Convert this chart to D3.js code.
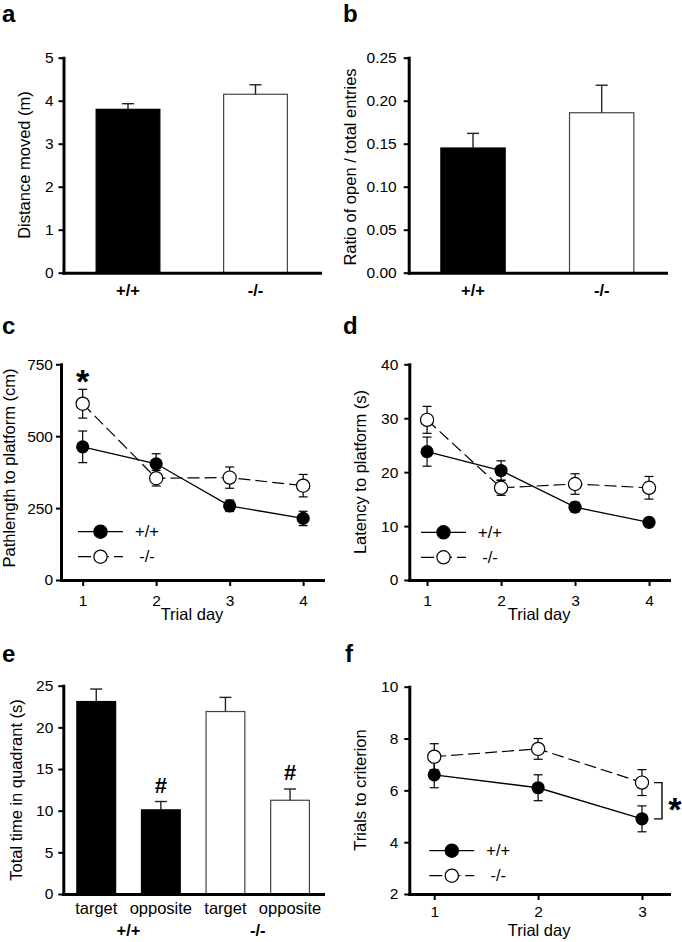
<!DOCTYPE html>
<html>
<head>
<meta charset="utf-8">
<script src="https://cdn.jsdelivr.net/npm/d3@7"></script>
<style>
  html, body { margin: 0; padding: 0; background: #fff; }
  svg { display: block; }
</style>
</head>
<body>
<svg id="chart" width="682" height="942"></svg>
<script>
// ---------------- data ----------------
const genotypes = ["+/+", "-/-"];
const distanceMean = [3.80, 4.15];
const distanceErr = [0.13, 0.22];
const ratioMean = [0.145, 0.186];
const ratioErr = [0.017, 0.032];

const mazeDays = [1, 2, 3, 4];
const pathWT = [463, 404, 258, 214];
const pathWTErr = [55, 35, 20, 25];
const pathKO = [613, 354, 356, 328];
const pathKOErr = [50, 27, 37, 39];

const latencyWT = [23.8, 20.3, 13.5, 10.7];
const latencyWTErr = [2.7, 1.8, 0.9, 0.8];
const latencyKO = [29.7, 17.1, 17.8, 17.1];
const latencyKOErr = [2.5, 1.4, 1.9, 2.1];

const quadrantLabels = ["target", "opposite", "target", "opposite"];
const quadrantGroup = ["+/+", "+/+", "-/-", "-/-"];
const quadrantMean = [23.1, 10.1, 21.9, 11.25];
const quadrantErr = [1.5, 1.0, 1.7, 1.35];
const quadrantSig = ["", "#", "", "#"];

const criterionDays = [1, 2, 3];
const criterionWT = [6.6, 6.1, 4.9];
const criterionWTErr = [0.5, 0.5, 0.5];
const criterionKO = [7.3, 7.6, 6.3];
const criterionKOErr = [0.5, 0.4, 0.5];

const ticksA = [0, 1, 2, 3, 4, 5];
const ticksB = [0, 0.05, 0.10, 0.15, 0.20, 0.25];
const ticksC = [0, 250, 500, 750];
const ticksD = [0, 10, 20, 30, 40];
const ticksE = [0, 5, 10, 15, 20, 25];
const ticksF = [2, 4, 6, 8, 10];

// ---------------- drawing ----------------
const FONT = "'Liberation Sans', Arial, Helvetica, sans-serif";
const svg = d3.select("#chart").attr("font-family", FONT);
const genoFill = { "+/+": "#000", "-/-": "#fff" };

function styleAxis(g, fs, bold) {
  g.attr("font-family", FONT);
  g.select(".domain").attr("stroke", "#000").attr("stroke-width", 3).attr("stroke-linecap", "square");
  g.selectAll(".tick line").attr("stroke", "#000").attr("stroke-width", 2);
  g.selectAll(".tick text").attr("font-size", fs).attr("fill", "#000")
    .attr("font-weight", bold ? "bold" : "normal");
}

function yAxis(y, x0, ticks, fmt, pad) {
  const g = svg.append("g").attr("transform", `translate(${x0},0)`)
    .call(d3.axisLeft(y).tickValues(ticks).tickFormat(fmt).tickSize(5).tickSizeOuter(0).tickPadding(pad));
  styleAxis(g, 15.5, false);
}

function yTitle(text, x, y) {
  svg.append("text").attr("transform", `translate(${x},${y}) rotate(-90)`)
    .attr("text-anchor", "middle").attr("font-size", 16.5).attr("fill", "#000").text(text);
}

function panelLabel(t, x, y) {
  svg.append("text").attr("x", x).attr("y", y).attr("font-size", 24)
    .attr("font-weight", "bold").attr("fill", "#000").text(t);
}

function barPanel(cfg) {
  const n = cfg.means.length;
  const x = d3.scaleBand().domain(d3.range(n)).range(cfg.xr).paddingInner(cfg.pi).paddingOuter(cfg.po);
  const y = d3.scaleLinear().domain(cfg.yd).range(cfg.yr);
  const bw = x.bandwidth();
  const g = svg.append("g");
  g.selectAll("rect").data(cfg.means).join("rect")
    .attr("x", (d, i) => x(i)).attr("y", d => y(d))
    .attr("width", bw).attr("height", d => y(cfg.yd[0]) - y(d))
    .attr("fill", (d, i) => genoFill[cfg.groups[i]])
    .attr("stroke", (d, i) => cfg.groups[i] === "+/+" ? "#000" : "#444")
    .attr("stroke-width", 1.2);
  const e = g.append("g").attr("stroke", "#222").attr("stroke-width", 1.4);
  cfg.means.forEach((m, i) => {
    const cx = x(i) + bw / 2;
    e.append("line").attr("x1", cx).attr("x2", cx).attr("y1", y(m)).attr("y2", y(m + cfg.errs[i]));
    e.append("line").attr("x1", cx - 6).attr("x2", cx + 6).attr("y1", y(m + cfg.errs[i])).attr("y2", y(m + cfg.errs[i]));
  });
  yAxis(y, cfg.xr[0], cfg.ticks, cfg.fmt, cfg.tickPad);
  const gx = svg.append("g").attr("transform", `translate(0,${cfg.yr[0]})`)
    .call(d3.axisBottom(x).tickSize(0).tickPadding(cfg.xPad).tickFormat(i => cfg.cats[i]));
  styleAxis(gx, 16.5, cfg.boldCats);
  return { x, y, bw };
}

function errBars(g, x, y, xs, means, errs) {
  const e = g.append("g").attr("stroke", "#000").attr("stroke-width", 1.2);
  means.forEach((m, i) => {
    const cx = x(xs[i]);
    e.append("line").attr("x1", cx).attr("x2", cx).attr("y1", y(m - errs[i])).attr("y2", y(m + errs[i]));
    [m - errs[i], m + errs[i]].forEach(v => {
      e.append("line").attr("x1", cx - 4.5).attr("x2", cx + 4.5).attr("y1", y(v)).attr("y2", y(v));
    });
  });
}

function linePanel(cfg) {
  const x = d3.scaleLinear().domain(cfg.xd).range(cfg.xr);
  const y = d3.scaleLinear().domain(cfg.yd).range(cfg.yr);
  const g = svg.append("g");
  const line = d3.line().x((d, i) => x(cfg.days[i])).y(d => y(d));
  g.append("path").datum(cfg.ko).attr("d", line).attr("fill", "none")
    .attr("stroke", "#000").attr("stroke-width", 1.2).attr("stroke-dasharray", "12,5");
  g.append("path").datum(cfg.wt).attr("d", line).attr("fill", "none")
    .attr("stroke", "#000").attr("stroke-width", 1.3);
  errBars(g, x, y, cfg.days, cfg.ko, cfg.koErr);
  errBars(g, x, y, cfg.days, cfg.wt, cfg.wtErr);
  g.selectAll(".ko").data(cfg.ko).join("circle").attr("class", "ko")
    .attr("cx", (d, i) => x(cfg.days[i])).attr("cy", d => y(d)).attr("r", 6.6)
    .attr("fill", "#fff").attr("stroke", "#000").attr("stroke-width", 1.2);
  g.selectAll(".wt").data(cfg.wt).join("circle").attr("class", "wt")
    .attr("cx", (d, i) => x(cfg.days[i])).attr("cy", d => y(d)).attr("r", 6.6)
    .attr("fill", "#000");
  yAxis(y, cfg.xr[0], cfg.ticks, d3.format("d"), cfg.tickPad);
  const gx = svg.append("g").attr("transform", `translate(0,${cfg.yr[0]})`)
    .call(d3.axisBottom(x).tickValues(cfg.days).tickFormat(d3.format("d")).tickSize(6).tickSizeOuter(0).tickPadding(cfg.xPad));
  styleAxis(gx, 15.5, false);
  svg.append("text").attr("x", (cfg.xr[0] + cfg.xr[1]) / 2).attr("y", cfg.yr[0] + cfg.titleOff)
    .attr("text-anchor", "middle").attr("font-size", 16.5).attr("fill", "#000").text("Trial day");
  // legend
  const L = cfg.legend;
  [["+/+", false, 0], ["-/-", true, 25]].forEach(([lab, ko, dy]) => {
    const ly = L.y + dy;
    svg.append("line").attr("x1", L.x).attr("x2", L.x + 45).attr("y1", ly).attr("y2", ly)
      .attr("stroke", "#000").attr("stroke-width", 1.3).attr("stroke-dasharray", ko ? "13,5" : null);
    svg.append("circle").attr("cx", L.x + 22.5).attr("cy", ly).attr("r", 6.6)
      .attr("fill", ko ? "#fff" : "#000").attr("stroke", "#000").attr("stroke-width", 1.2);
    svg.append("text").attr("x", L.x + 69).attr("y", ly).attr("dy", "0.35em")
      .attr("text-anchor", "middle").attr("font-size", 16.5).attr("fill", "#000").text(lab);
  });
  return { x, y };
}

// ----- panel a -----
barPanel({ means: distanceMean, errs: distanceErr, groups: genotypes, cats: genotypes,
  xr: [63.5, 320], yr: [272.7, 57.7], yd: [0, 5], pi: 0.5, po: 0.256,
  ticks: ticksA, fmt: d3.format("d"), tickPad: 5, xPad: 12, boldCats: true });
yTitle("Distance moved (m)", 30, 165);
panelLabel("a", 2, 22);

// ----- panel b -----
barPanel({ means: ratioMean, errs: ratioErr, groups: genotypes, cats: genotypes,
  xr: [408.7, 666], yr: [272.7, 57.7], yd: [0, 0.25], pi: 0.5, po: 0.25,
  ticks: ticksB, fmt: d3.format(".2f"), tickPad: 7, xPad: 12, boldCats: true });
yTitle("Ratio of open / total entries", 356, 167);
panelLabel("b", 343, 22);

// ----- panel c -----
const pc = linePanel({ days: mazeDays, wt: pathWT, wtErr: pathWTErr, ko: pathKO, koErr: pathKOErr,
  xd: [0.705, 4.27], xr: [61, 323], yd: [0, 750], yr: [580, 364.3], ticks: ticksC,
  tickPad: 3, xPad: 9, titleOff: 40, legend: { x: 78, y: 531.7 } });
svg.append("text").attr("x", pc.x(mazeDays[0])).attr("y", pc.y(pathKO[0] + pathKOErr[0]) + 4)
  .attr("text-anchor", "middle").attr("font-size", 34).attr("font-weight", "bold").attr("fill", "#000").text("*");
yTitle("Pathlength to platform (cm)", 15, 468);
panelLabel("c", 2, 334);

// ----- panel d -----
linePanel({ days: mazeDays, wt: latencyWT, wtErr: latencyWTErr, ko: latencyKO, koErr: latencyKOErr,
  xd: [0.76, 4.27], xr: [409.3, 669], yd: [0, 40], yr: [580, 364.3], ticks: ticksD,
  tickPad: 6, xPad: 9, titleOff: 40, legend: { x: 421, y: 532.3 } });
yTitle("Latency to platform (s)", 366, 472);
panelLabel("d", 343, 334);

// ----- panel e -----
const pe = barPanel({ means: quadrantMean, errs: quadrantErr, groups: quadrantGroup, cats: quadrantLabels,
  xr: [63.3, 323], yr: [894, 685.7], yd: [0, 25], pi: 0.4, po: 0.21,
  ticks: ticksE, fmt: d3.format("d"), tickPad: 5, xPad: 8, boldCats: false });
quadrantSig.forEach((s, i) => {
  if (!s) return;
  svg.append("text").attr("x", pe.x(i) + pe.bw / 2).attr("y", pe.y(quadrantMean[i] + quadrantErr[i]) - 9)
    .attr("text-anchor", "middle").attr("font-size", 22).attr("font-weight", "bold").attr("fill", "#000").text(s);
});
genotypes.forEach((gname) => {
  const idx = quadrantGroup.map((q, i) => q === gname ? i : -1).filter(i => i >= 0);
  const cx = d3.mean(idx, i => pe.x(i) + pe.bw / 2);
  svg.append("text").attr("x", cx).attr("y", 936).attr("text-anchor", "middle")
    .attr("font-size", 16.5).attr("font-weight", "bold").attr("fill", "#000").text(gname);
});
yTitle("Total time in quadrant (s)", 22, 790);
panelLabel("e", 2, 662);

// ----- panel f -----
const pf = linePanel({ days: criterionDays, wt: criterionWT, wtErr: criterionWTErr, ko: criterionKO, koErr: criterionKOErr,
  xd: [0.76, 3.26], xr: [409.3, 669], yd: [2, 10], yr: [894, 686.7], ticks: ticksF,
  tickPad: 6, xPad: 6, titleOff: 42, legend: { x: 429.3, y: 850.7 } });
{
  const last = criterionDays.length - 1;
  const bx = pf.x(criterionDays[last]) + 20;
  const y1 = pf.y(criterionKO[last]), y2 = pf.y(criterionWT[last]);
  svg.append("path").attr("d", `M${bx - 8},${y1}H${bx}V${y2}H${bx - 8}`)
    .attr("fill", "none").attr("stroke", "#000").attr("stroke-width", 1.4);
  svg.append("text").attr("x", bx + 13).attr("y", (y1 + y2) / 2 + 20).attr("text-anchor", "middle")
    .attr("font-size", 34).attr("font-weight", "bold").attr("fill", "#000").text("*");
}
yTitle("Trials to criterion", 366, 790);
panelLabel("f", 345, 662);
</script>
</body>
</html>
